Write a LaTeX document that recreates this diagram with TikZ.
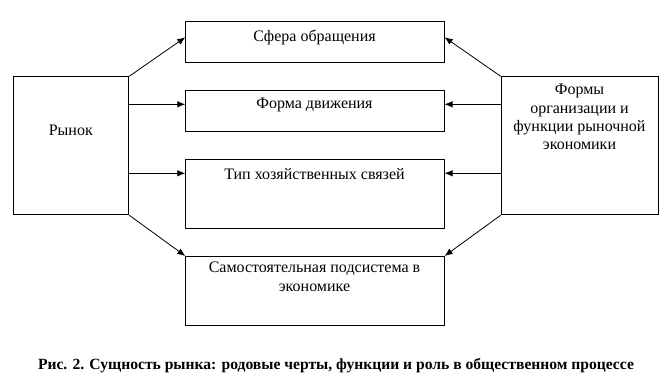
\documentclass[tikz,border=0pt]{standalone}
\usepackage{fontspec}
\setmainfont{Liberation Serif}
\usetikzlibrary{arrows.meta}
\begin{document}
\begin{tikzpicture}[x=1pt,y=-1pt,
  box/.style={draw, line width=0.9pt, inner sep=0pt, anchor=north west},
  txt/.style={inner sep=0pt, align=center, font=\fontsize{16}{18.4}\selectfont},
  captxt/.style={inner sep=0pt, font=\bfseries\fontsize{15.6}{17}\selectfont},
  arr/.style={line width=0.8pt, -{Latex[length=8pt,width=6.5pt]}}]
\useasboundingbox (0,0) rectangle (670,382);
% boxes
\node[box, minimum width=115pt, minimum height=138pt] (rynok) at (13.3,76.3) {};
\node[box, minimum width=258.4pt, minimum height=41pt] (sfera) at (185.3,21.3) {};
\node[box, minimum width=258.4pt, minimum height=40.7pt] (forma) at (185.3,90.3) {};
\node[box, minimum width=258.4pt, minimum height=69pt] (tip) at (185.3,159.3) {};
\node[box, minimum width=258.4pt, minimum height=69.3pt] (samo) at (185.3,256) {};
\node[box, minimum width=157.6pt, minimum height=138pt] (formy) at (500.7,76.3) {};
% texts
\node[txt] (trynok) at (70.8,130) {Рынок};
\node[txt] (tsfera) at (314.5,37.5) {Сфера обращения};
\node[txt] (tforma) at (314.5,105) {Форма движения};
\node[txt] (ttip) at (314.5,174) {Тип хозяйственных связей};
\node[txt, anchor=north] (tsamo) at (314.5,262) {Самостоятельная подсистема в\\экономике};
\node[txt, anchor=north] (tformy) at (579.5,84) {Формы\\организации и\\функции рыночной\\экономики};
\node[captxt] (caption) at (336,366) {Рис. 2. Сущность рынка: родовые черты, функции и роль в общественном процессе};
% connector anchors
\coordinate (sfL) at ([yshift=-16pt]sfera.north west);
\coordinate (sfR) at ([yshift=-16pt]sfera.north east);
\coordinate (rA) at (rynok.east |- 0,104.3);
\coordinate (rB) at (rynok.east |- 0,173.3);
\coordinate (fA) at (formy.west |- 0,104.3);
\coordinate (fB) at (formy.west |- 0,173.3);
% arrows
\draw[arr] (rynok.north east) -- (sfL);
\draw[arr] (rA) -- (forma.west |- rA);
\draw[arr] (rB) -- (tip.west |- rB);
\draw[arr] (rynok.south east) -- (samo.north west);
\draw[arr] (formy.north west) -- (sfR);
\draw[arr] (fA) -- (forma.east |- fA);
\draw[arr] (fB) -- (tip.east |- fB);
\draw[arr] (formy.south west) -- (samo.north east);
\end{tikzpicture}
\end{document}
